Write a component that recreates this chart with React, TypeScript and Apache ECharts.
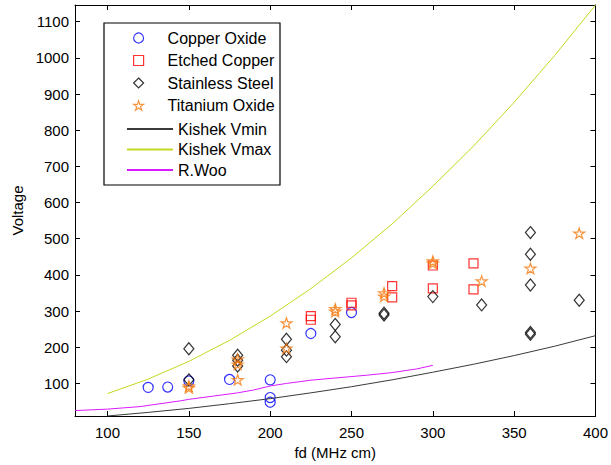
import React, { useEffect, useRef } from "react";
import * as echarts from "echarts";

// ---- data ----
const copperOxide: number[][] = [
  [125, 89], [137, 90], [150, 107], [175, 111], [200, 110], [200, 61], [200, 48], [225, 238], [250, 296],
];
const etchedCopper: number[][] = [
  [225, 286], [225, 276], [250, 323], [250, 316], [275, 369], [275, 338], [300, 426], [300, 363], [325, 432], [325, 360],
];
const stainlessSteel: number[][] = [
  [150, 196], [150, 110], [180, 178], [180, 164], [180, 148], [210, 222], [210, 192], [210, 174],
  [240, 263], [240, 229], [270, 294], [270, 289], [300, 340], [330, 317], [360, 517], [360, 457],
  [360, 372], [360, 241], [360, 236], [390, 330],
];
const titaniumOxide: number[][] = [
  [150, 93], [150, 88], [180, 167], [180, 153], [180, 110], [210, 267], [210, 197], [240, 306], [240, 299],
  [270, 350], [270, 341], [300, 438], [300, 432], [330, 383], [360, 418], [390, 515],
];
const kishekFd = [100, 125, 150, 175, 200, 225, 250, 275, 300, 325, 350, 375, 400];
const kishekVmin = [10, 20, 31, 44, 58, 74, 91, 110, 131, 153, 177, 203, 232];
const kishekVmax = [72, 112, 161, 219, 286, 362, 447, 541, 645, 756, 877, 1007, 1146];
const wooFd = [80, 100, 120, 145, 150, 165, 180, 190, 200, 210, 225, 240, 260, 275, 290, 300];
const wooV = [25, 29, 36, 52, 56, 65, 74, 82, 93, 100, 109, 115, 123, 130, 140, 150];

const markerNames = ["Copper Oxide", "Etched Copper", "Stainless Steel", "Titanium Oxide"];
const lineNames = ["Kishek Vmin", "Kishek Vmax", "R.Woo"];

const FONT = "'Liberation Sans', Arial, Helvetica, sans-serif";
const STAR =
  "path://M0,-100 L22.45,-30.9 L95.11,-30.9 L36.33,11.8 L58.78,80.9 L0,38.2 L-58.78,80.9 L-36.33,11.8 L-95.11,-30.9 L-22.45,-30.9 Z";

const COLORS = ["#0000ff", "#ff0000", "#000000", "#f57a10", "#3a3a3a", "#c5d820", "#d91aff"];

const zip = (xs: number[], ys: number[]) => xs.map((x, i) => [x, ys[i]]);

export default function App() {
  const ref = useRef<HTMLDivElement>(null);
  useEffect(() => {
    if (!ref.current) return;
    const chart = echarts.init(ref.current, null, { renderer: "svg" });
    const axisCommon = {
      type: "value" as const,
      splitLine: { show: false },
      axisLine: { show: true, onZero: false, lineStyle: { color: "#000", width: 1 } },
      axisTick: { show: true, inside: true, length: 5, lineStyle: { color: "#000", width: 1 } },
    };
    const xBase = { ...axisCommon, min: 80, max: 400, splitNumber: 6, minInterval: 50, maxInterval: 50 };
    const yBase = { ...axisCommon, min: 10, max: 1146, splitNumber: 11, minInterval: 100, maxInterval: 100 };
    const scatterBase = (name: string, data: number[][], symbol: string, size: any, color: string) => ({
      name,
      type: "scatter",
      data,
      symbol,
      symbolSize: size,
      symbolKeepAspect: true,
      itemStyle: { color: "rgba(0,0,0,0)", borderColor: color, borderWidth: 1.2 },
      emphasis: { disabled: true },
    });
    const lineBase = (name: string, data: number[][], color: string) => ({
      name,
      type: "line",
      data,
      symbol: "none",
      showSymbol: false,
      lineStyle: { color, width: 1 },
      itemStyle: { color },
      emphasis: { disabled: true },
    });
    const markerIcons = ["circle", "rect", "diamond", STAR];
    chart.setOption({
      animation: false,
      backgroundColor: "#fff",
      grid: { left: 75, top: 5, right: 15, bottom: 49, containLabel: false },
      xAxis: [
        {
          ...xBase,
          position: "bottom",
          axisLabel: { color: "#000", fontSize: 15, fontFamily: FONT, margin: 9, showMinLabel: false },
          name: "fd (MHz cm)",
          nameLocation: "middle",
          nameGap: 29,
          nameTextStyle: { color: "#000", fontSize: 15, fontFamily: FONT },
        },
        { ...xBase, position: "top", axisLabel: { show: false } },
      ],
      yAxis: [
        {
          ...yBase,
          position: "left",
          axisLabel: {
            color: "#000", fontSize: 15, fontFamily: FONT, margin: 6, showMinLabel: false, showMaxLabel: false,
            formatter: (v: number) => String(v),
          },
          name: "Voltage",
          nameLocation: "middle",
          nameGap: 47,
          nameTextStyle: { color: "#000", fontSize: 15, fontFamily: FONT },
        },
        { ...yBase, position: "right", axisLabel: { show: false } },
      ],
      legend: [
        {
          data: markerNames.map((n, i) => ({
            name: n,
            icon: markerIcons[i],
            itemStyle: { color: "rgba(0,0,0,0)", borderColor: COLORS[i], borderWidth: 1.2 },
          })),
          orient: "vertical",
          left: 128,
          top: 24.5,
          itemWidth: 10,
          itemHeight: 10,
          itemGap: 5.5,
          symbolKeepAspect: true,
          selectedMode: false,
          textStyle: { color: "#000", fontSize: 16, lineHeight: 17, fontFamily: FONT, padding: [0, 0, 0, 19] },
        },
        {
          data: lineNames.map((n, i) => ({
            name: n,
            icon: "rect",
            itemStyle: { color: COLORS[4 + i], borderWidth: 0 },
          })),
          orient: "vertical",
          left: 122,
          top: 115.5,
          itemWidth: 46,
          itemHeight: 2,
          itemGap: 3.5,
          selectedMode: false,
          textStyle: { color: "#000", fontSize: 16, lineHeight: 17, fontFamily: FONT },
        },
      ],
      graphic: [
        {
          type: "rect",
          shape: { x: 104, y: 23, width: 176, height: 162 },
          style: { fill: "#fff", stroke: "#000", lineWidth: 1.2 },
          z: 0,
          silent: true,
        },
      ],
      series: [
        scatterBase(markerNames[0], copperOxide, "circle", 10, COLORS[0]),
        scatterBase(markerNames[1], etchedCopper, "rect", 9, COLORS[1]),
        scatterBase(markerNames[2], stainlessSteel, "diamond", [10, 12], COLORS[2]),
        scatterBase(markerNames[3], titaniumOxide, STAR, 11, COLORS[3]),
        lineBase(lineNames[0], zip(kishekFd, kishekVmin), COLORS[4]),
        lineBase(lineNames[1], zip(kishekFd, kishekVmax), COLORS[5]),
        lineBase(lineNames[2], zip(wooFd, wooV), COLORS[6]),
      ],
    });
    return () => chart.dispose();
  }, []);
  return (
    <div
      ref={ref}
      style={{ position: "fixed", left: 0, top: 0, width: 611, height: 465, background: "#fff" }}
    />
  );
}
